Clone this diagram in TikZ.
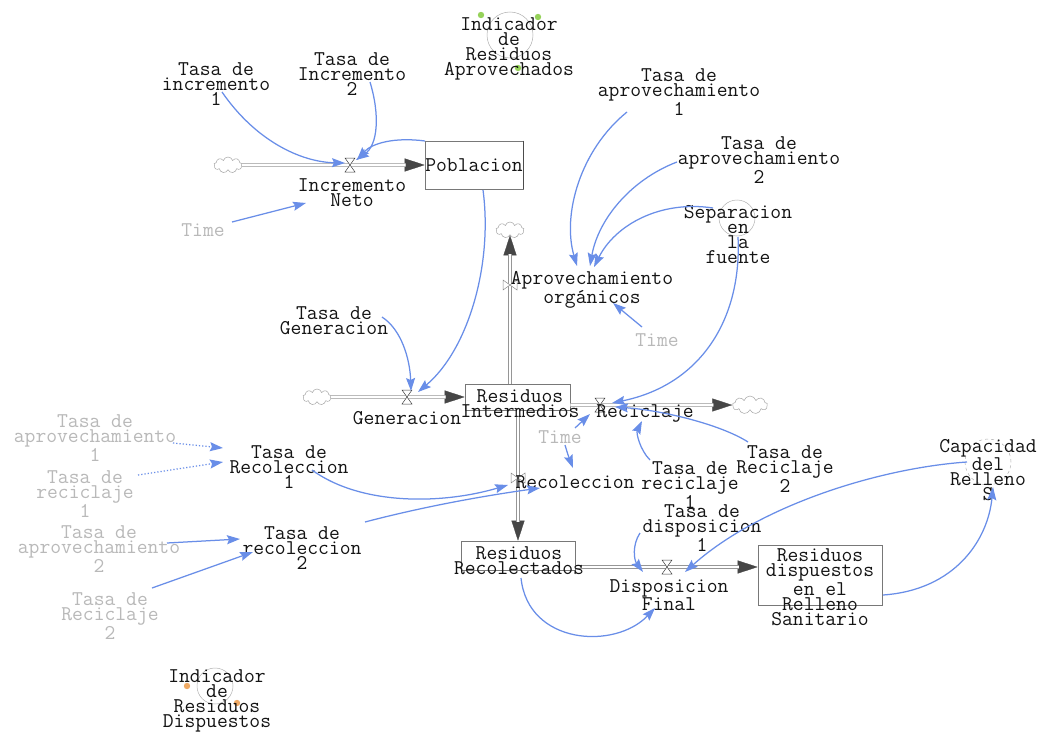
\documentclass[tikz,border=0pt]{standalone}
\usetikzlibrary{arrows.meta,shapes.symbols}
\definecolor{linkblue}{RGB}{105,142,232}
\definecolor{txt}{RGB}{20,20,20}
\definecolor{ghost}{RGB}{185,185,185}
\definecolor{pipegray}{RGB}{150,150,150}
\definecolor{tipgray}{RGB}{70,70,70}
\definecolor{boxgray}{RGB}{120,120,120}
\definecolor{markgreen}{RGB}{150,210,90}
\definecolor{markorange}{RGB}{240,170,100}
\newcommand\drawvalveV[1]{\draw[line width=0.5pt, draw=black!75, fill=white] ([shift={(-5,-7)}]#1.center) -- ([shift={(5,-7)}]#1.center) -- ([shift={(-5,7)}]#1.center) -- ([shift={(5,7)}]#1.center) -- cycle;}
\newcommand\drawvalveH[1]{\draw[line width=0.5pt, draw=black!45, fill=white] ([shift={(-7,-5)}]#1.center) -- ([shift={(-7,5)}]#1.center) -- ([shift={(7,-5)}]#1.center) -- ([shift={(7,5)}]#1.center) -- cycle;}
\begin{document}
\begin{tikzpicture}[x=1pt,y=-1pt,
  lbl/.style={font=\fontsize{21}{15}\selectfont\ttfamily, text=txt, align=center, inner sep=0pt},
  ghostlbl/.style={lbl, text=ghost},
  stockbox/.style={draw=boxgray, line width=0.6pt, inner sep=0pt, fill=white},
  pipe/.style={draw=pipegray, double=white, double distance=2.6pt, line width=0.6pt},
  flowtip/.style={draw=tipgray, line width=0.3pt, -{Triangle[length=20pt,width=13pt]}},
  link/.style={draw=linkblue, line width=1.25pt, -{Stealth[length=13pt,width=9pt,inset=2pt]}},
  dotlink/.style={link, dotted},
  cloudshape/.style={cloud, cloud puffs=9, draw=gray!70, line width=0.5pt, minimum width=28pt, minimum height=16pt, inner sep=0pt, aspect=2},
  valvept/.style={inner sep=0pt, minimum size=12pt},
  vcircle/.style={circle, draw=gray!60, line width=0.5pt, inner sep=0pt}
]
\path[fill=white, use as bounding box] (0,0) rectangle (1041,733);

% ---------- stocks, clouds, valves ----------
\node[cloudshape] (cIN) at (228,165) {};
\node[cloudshape] (cGen) at (317,397) {};
\node[cloudshape] (cAO) at (510,230) {};
\node[cloudshape, minimum width=35pt, minimum height=18pt] (cRec) at (750,405) {};

\node[lbl, stockbox, minimum width=98pt, minimum height=48pt] (pob) at (474,165) {Poblacion};
\node[stockbox, minimum width=105pt, minimum height=26pt] (ri) at (517.5,397) {};
\node[stockbox, minimum width=114pt, minimum height=29pt] (rr) at (518,555.5) {};
\node[stockbox, minimum width=124pt, minimum height=60pt] (rd) at (820,575) {};

\node[valvept] (vIN) at (350,165) {};
\node[valvept] (vGen) at (407,397) {};
\node[valvept] (vAO) at (510,285) {};
\node[valvept] (vRec) at (600,405) {};
\node[valvept] (vRc) at (518,478) {};
\node[valvept] (vDF) at (667,567) {};

% ---------- pipes ----------
\draw[flowtip] (cIN.east) -- (pob.west);
\draw[pipe, shorten >=19pt] (cIN.east) -- (pob.west);
\draw[flowtip] (cGen.east) -- (ri.west);
\draw[pipe, shorten >=19pt] (cGen.east) -- (ri.west);
\draw[flowtip] ([shift={(-7.5,0)}]ri.north) -- (cAO.south);
\draw[pipe, shorten >=19pt] ([shift={(-7.5,0)}]ri.north) -- (cAO.south);
\draw[flowtip] ([shift={(0,8)}]ri.east) -- (cRec.west);
\draw[pipe, shorten >=19pt] ([shift={(0,8)}]ri.east) -- (cRec.west);
\draw[flowtip] ([shift={(0.5,0)}]ri.south) -- (rr.north);
\draw[pipe, shorten >=19pt] ([shift={(0.5,0)}]ri.south) -- (rr.north);
\draw[flowtip] ([shift={(0,11.5)}]rr.east) -- ([shift={(0,-8)}]rd.west);
\draw[pipe, shorten >=19pt] ([shift={(0,11.5)}]rr.east) -- ([shift={(0,-8)}]rd.west);
\draw[line width=1.6pt, draw=black!70] (pob.north east) -- (pob.south east);

\drawvalveV{vIN}
\drawvalveV{vGen}
\drawvalveH{vAO}
\drawvalveV{vRec}
\drawvalveH{vRc}
\drawvalveV{vDF}

% ---------- circles of shadow / special variables ----------
\node[vcircle, minimum size=46pt] (indApC) at (510,35) {};
\node[vcircle, minimum size=36pt] (sepC) at (737,218) {};
\node[vcircle, minimum size=46pt, dashed] (capC) at (988,462) {};
\node[vcircle, minimum size=36pt] (indDiC) at (215,686) {};
\fill[markgreen] (481,15) circle (3.2);
\fill[markgreen] (538,17) circle (3.2);
\fill[markgreen] (518,68) circle (3.2);
\fill[markorange] (187,686) circle (3.2);
\fill[markorange] (237,703) circle (3.2);

% ---------- labels ----------
\node[lbl] (indAp) at (509,49) {Indicador\\de\\Residuos\\Aprovechados};
\node[lbl] (ti1) at (216,84) {Tasa de\\incremento\\1};
\node[lbl] (ti2) at (352,74) {Tasa de\\Incremento\\2};
\node[lbl] (lIN) at (352,193) {Incremento\\Neto};
\node[ghostlbl] (time1) at (203,230) {Time};
\node[lbl] (tap1) at (679,92) {Tasa de\\aprovechamiento\\1};
\node[lbl] (tap2) at (759,160) {Tasa de\\aprovechamiento\\2};
\node[lbl] (sep) at (738,235) {Separacion\\en\\la\\fuente};
\node[lbl] (lAO) at (592,290) {Aprovechamiento\\orgánicos};
\node[ghostlbl] (time2) at (657,340) {Time};
\node[lbl] (tgen) at (334,321) {Tasa de\\Generacion};
\node[lbl] (riT) at (520,404) {Residuos\\Intermedios};
\node[lbl] (lGen) at (407,418) {Generacion};
\node[lbl] (lRec) at (645,413) {Reciclaje};
\node[ghostlbl] (time3) at (560,437) {Time};
\node[lbl] (lRc) at (575,482) {Recoleccion};
\node[lbl] (trec1) at (289,467) {Tasa de\\Recoleccion\\1};
\node[lbl] (trec2) at (302,548) {Tasa de\\recoleccion\\2};
\node[ghostlbl] (gap1) at (95,438) {Tasa de\\aprovechamiento\\1};
\node[ghostlbl] (grc1) at (85,494) {Tasa de\\reciclaje\\1};
\node[ghostlbl] (gap2) at (99,549) {Tasa de\\aprovechamiento\\2};
\node[ghostlbl] (grc2) at (110,616) {Tasa de\\Reciclaje\\2};
\node[lbl] (trc1) at (690,485) {Tasa de\\reciclaje\\1};
\node[lbl] (trc2) at (785,469) {Tasa de\\Reciclaje\\2};
\node[lbl] (tdp1) at (702,528) {Tasa de\\disposicion\\1};
\node[lbl] (rrT) at (519,561) {Residuos\\Recolectados};
\node[lbl] (lDF) at (669,595) {Disposicion\\Final};
\node[lbl] (rdT) at (820,587) {Residuos\\dispuestos\\en el\\Relleno\\Sanitario};
\node[lbl] (cap) at (988,470) {Capacidad\\del\\Relleno\\S};
\node[lbl] (indDi) at (217,701) {Indicador\\de\\Residuos\\Dispuestos};

% ---------- information links ----------
\draw[link] ([shift={(6,8)}]ti1.center) .. controls (255,140) and (300,162) .. ([shift={(-5,-2)}]vIN.center);
\draw[link] ([shift={(18,8)}]ti2.center) .. controls (380,115) and (378,145) .. ([shift={(6,-5)}]vIN.center);
\draw[link] ([shift={(-49,-24)}]pob.center) .. controls (395,137) and (372,143) .. ([shift={(7,-5)}]vIN.center);
\draw[link] ([shift={(29,-8)}]time1.center) -- ([shift={(-46,10)}]lIN.center);
\draw[link] ([shift={(9,25)}]pob.center) .. controls (493,265) and (468,350) .. ([shift={(11,-5)}]vGen.center);
\draw[link] ([shift={(48,-4)}]tgen.center) .. controls (402,330) and (410,360) .. ([shift={(4,-6)}]vGen.center);
\draw[link] ([shift={(-52,20)}]tap1.center) .. controls (580,150) and (562,215) .. ([shift={(-15,-24)}]lAO.center);
\draw[link] ([shift={(-82,2)}]tap2.center) .. controls (630,180) and (598,220) .. ([shift={(-2,-24)}]lAO.center);
\draw[link] ([shift={(-25,-27)}]sep.center) .. controls (660,200) and (615,225) .. ([shift={(2,-23)}]lAO.center);
\draw[link] ([shift={(-15,-13)}]time2.center) -- ([shift={(21,13)}]lAO.center);
\draw[link] ([shift={(0,2)}]sep.center) .. controls (742,320) and (700,385) .. ([shift={(12,-2)}]vRec.center);
\draw[link] ([shift={(-37,-27)}]trc2.center) .. controls (720,424) and (660,410) .. ([shift={(15,2)}]vRec.center);
\draw[link] ([shift={(-40,-25)}]trc1.center) .. controls (640,450) and (636,433) .. ([shift={(-3,8)}]lRec.center);
\draw[link] ([shift={(15,-9)}]time3.center) -- ([shift={(-10,9)}]vRec.center);
\draw[link] ([shift={(5,8)}]time3.center) .. controls (568,455) .. ([shift={(-2,-14)}]lRc.center);
\draw[link] ([shift={(23,3)}]trec1.center) .. controls (360,505) and (440,505) .. ([shift={(-10,7)}]vRc.center);
\draw[link] ([shift={(63,-26)}]trec2.center) .. controls (430,505) and (490,495) .. ([shift={(-35,6)}]lRc.center);
\draw[dotlink] ([shift={(78,5)}]gap1.center) -- ([shift={(-66,-19)}]trec1.center);
\draw[dotlink] ([shift={(53,-19)}]grc1.center) -- ([shift={(-66,-5)}]trec1.center);
\draw[link] ([shift={(68,-6)}]gap2.center) -- ([shift={(-62,-9)}]trec2.center);
\draw[link] ([shift={(42,-28)}]grc2.center) -- ([shift={(-49,4)}]trec2.center);
\draw[link] ([shift={(-62,5)}]tdp1.center) .. controls (632,545) and (634,560) .. ([shift={(-24,5)}]vDF.center);
\draw[link] ([shift={(-21,-8)}]cap.center) .. controls (880,468) and (760,505) .. ([shift={(18,5)}]vDF.center);
\draw[link] ([shift={(2,17)}]rrT.center) .. controls (528,645) and (615,650) .. ([shift={(-14,13)}]lDF.center);
\draw[link] ([shift={(63,20)}]rd.center) .. controls (955,590) and (988,540) .. ([shift={(5,17)}]cap.center);
\end{tikzpicture}
\end{document}
